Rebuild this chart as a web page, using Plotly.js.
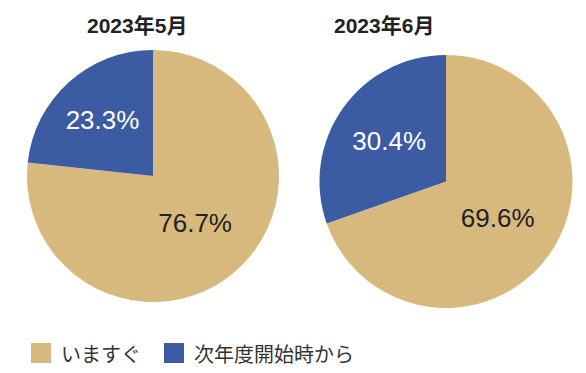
<!DOCTYPE html>
<html><head><meta charset="utf-8">
<script src="https://cdn.plot.ly/plotly-3.0.1.min.js"></script>
<style>html,body{margin:0;padding:0;background:#fff}#chart{width:586px;height:373px}</style>
</head><body><div id="chart"></div>
<script>
const categories = ["いますぐ", "次年度開始時から"];
const titles = ["2023年5月", "2023年6月"];
const valuesMay = [76.7, 23.3];
const valuesJune = [69.6, 30.4];
const colors = ["#D7B97E", "#3B5BA2"];
const textColors = ["#222222", "#FFFFFF"];
const NUMFONT = "'Liberation Sans', Arial, sans-serif";
const JPFONT = "'Noto Sans CJK JP', sans-serif";
const W = 586, H = 373;
function px(x) { return x / W; }
function py(y) { return 1 - y / H; }
function dom(x0, x1, y0, y1) { return {x: [px(x0), px(x1)], y: [py(y1), py(y0)]}; }
function pie(vals, d) {
  return {
    type: "pie", values: vals, labels: categories, sort: false, direction: "clockwise", rotation: 0,
    marker: {colors: colors, line: {width: 0}},
    texttemplate: "%{value:.1f}%", textinfo: "text", textposition: "inside",
    insidetextfont: {family: NUMFONT, size: 26, color: textColors},
    hoverinfo: "none", domain: d, showlegend: false
  };
}
const data = [pie(valuesMay, dom(27, 279, 50, 302)), pie(valuesJune, dom(319, 573, 55, 308))];

const shapes = [];
const annotations = [
  {text: "<b>" + titles[0] + "</b>", x: px(137), y: py(25), xanchor: "center", yanchor: "middle", xref: "paper", yref: "paper", showarrow: false, font: {family: NUMFONT + ", " + JPFONT, size: 21, color: "#222"}},
  {text: "<b>" + titles[1] + "</b>", x: px(384), y: py(25), xanchor: "center", yanchor: "middle", xref: "paper", yref: "paper", showarrow: false, font: {family: NUMFONT + ", " + JPFONT, size: 21, color: "#222"}}
];
const legendX = [31, 164];
categories.forEach(function (c, i) {
  shapes.push({type: "rect", xref: "paper", yref: "paper", x0: px(legendX[i]), x1: px(legendX[i] + 20), y0: py(363), y1: py(343), fillcolor: colors[i], line: {width: 0}});
  annotations.push({text: c, x: px(legendX[i] + 28), y: py(353), xanchor: "left", yanchor: "middle", xref: "paper", yref: "paper", showarrow: false, font: {family: JPFONT, size: 20, color: "#333"}});
});

const layout = {
  width: W, height: H, margin: {l: 0, r: 0, t: 0, b: 0},
  paper_bgcolor: "#fff", font: {family: NUMFONT, color: "#222"},
  showlegend: false, shapes: shapes, annotations: annotations
};
Plotly.newPlot("chart", data, layout, {displayModeBar: false, staticPlot: true});
</script></body></html>
